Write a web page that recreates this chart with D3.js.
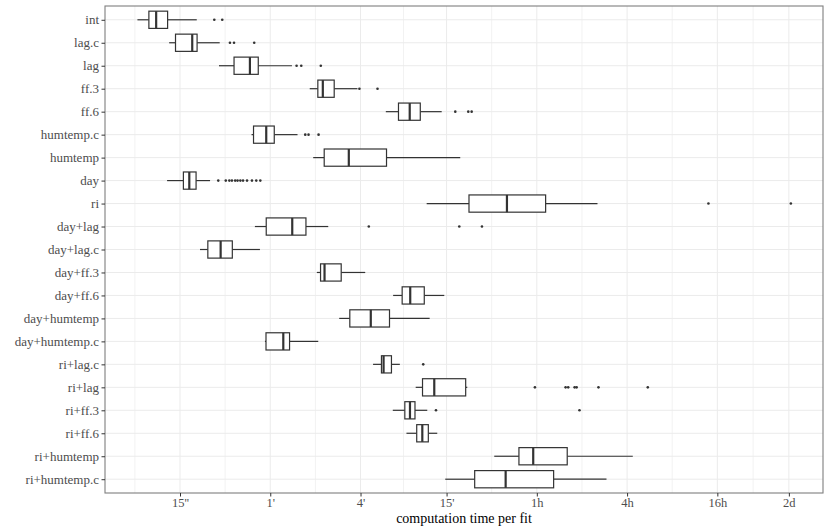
<!DOCTYPE html>
<meta charset="utf-8">
<style type="text/css">
body { margin: 0; background: #fff; }
svg text { font-family: "Palatino Linotype", "Book Antiqua", Palatino, "Liberation Serif", serif; }
.grid line { stroke: #ebebeb; }
.box rect { fill: #fff; stroke: #333; stroke-width: 1.2px; }
.box line { stroke: #333; stroke-width: 1.2px; }
.box .median { stroke-width: 2.2px; }
.outlier { fill: #333; }
</style>
<body>
<script src="https://cdn.jsdelivr.net/npm/d3@7"></script>
<script>

// categories, top to bottom
var models = ["int", "lag.c", "lag", "ff.3", "ff.6", "humtemp.c", "humtemp", "day", "ri",
  "day+lag", "day+lag.c", "day+ff.3", "day+ff.6", "day+humtemp", "day+humtemp.c",
  "ri+lag.c", "ri+lag", "ri+ff.3", "ri+ff.6", "ri+humtemp", "ri+humtemp.c"];

// box statistics, seconds per fit
var whiskerLow  = [7.8, 12.7, 27.3, 110, 354, 45.0, 116, 12.3, 663,
  47.4, 20.4, 122.7, 396, 173, 55.3, 291, 560, 394, 486, 1872, 882];
var q1          = [9.3, 14.0, 34.4, 124.6, 430, 46.4, 137.4, 15.8, 1270,
  56.4, 23.0, 129.9, 455, 203.6, 56.2, 331, 622, 474, 569, 2735, 1386];
var medians     = [10.4, 18.1, 43.9, 134.5, 511, 56.4, 200.5, 17.3, 2275,
  84.1, 28.0, 138.1, 515, 281, 73.3, 342, 745, 513, 620, 3406, 2230];
var q3          = [12.4, 19.5, 49.9, 160.2, 601, 63.8, 357.8, 19.2, 4121,
  103.8, 33.5, 178.4, 639, 374.6, 80.7, 386, 1207, 554, 680, 5742, 4660];
var whiskerHigh = [19.4, 27.6, 83.7, 229, 835, 91.2, 1110, 23.8, 9141,
  146.2, 51.2, 258, 869, 694, 125.4, 439, 1237, 669, 780, 15718, 10495];
var outliers = [
  [25.4, 28.7],
  [32.3, 34.4, 46.9],
  [89.9, 96.6, 130.4],
  [236, 311.6],
  [1029, 1256, 1323],
  [102.7, 108, 126],
  [],
  [27.0, 30.3, 32.0, 33.3, 35.0, 36.3, 37.9, 39.5, 42.0, 45.3, 48.4, 51.5],
  [50240, 178200],
  [272.6, 1094, 1550],
  [], [], [], [], [],
  [629],
  [3496, 5602, 5831, 6433, 6634, 9282, 19789],
  [765, 6932],
  [], [], []
];

var tickValues = [15, 60, 240, 900, 3600, 14400, 57600, 172800];
var tickLabels = ["15''", "1'", "4'", "15'", "1h", "4h", "16h", "2d"];

var width = 830, height = 529;
var panel = {left: 105, right: 823, top: 6, bottom: 493};

var svg = d3.select("body").append("svg")
    .attr("width", width)
    .attr("height", height);

var x = d3.scaleLog().domain([4.74, 291900]).range([panel.left, panel.right]);
var y = d3.scalePoint().domain(models).range([panel.top, panel.bottom]).padding(0.6);
var boxH = y.step() * 0.75;

// minor breaks halfway (in log space) between the major ones
var minorValues = [tickValues[0] / Math.sqrt(tickValues[1] / tickValues[0])];
for (var i = 1; i < tickValues.length; i++) {
  minorValues.push(Math.sqrt(tickValues[i - 1] * tickValues[i]));
}
minorValues = minorValues.filter(function(v) { return x(v) > panel.left && x(v) < panel.right; });

var grid = svg.append("g").attr("class", "grid");
grid.selectAll(".minor").data(minorValues).enter().append("line")
    .attr("x1", function(d) { return x(d); }).attr("x2", function(d) { return x(d); })
    .attr("y1", panel.top).attr("y2", panel.bottom)
    .style("stroke", "#f2f2f2").style("stroke-width", 1);
grid.selectAll(".majorx").data(tickValues).enter().append("line")
    .attr("x1", function(d) { return x(d); }).attr("x2", function(d) { return x(d); })
    .attr("y1", panel.top).attr("y2", panel.bottom)
    .style("stroke-width", 1);
grid.selectAll(".majory").data(models).enter().append("line")
    .attr("x1", panel.left).attr("x2", panel.right)
    .attr("y1", function(d) { return y(d); }).attr("y2", function(d) { return y(d); })
    .style("stroke-width", 1);

// boxplots
var boxes = svg.selectAll(".box").data(models).enter().append("g")
    .attr("class", "box")
    .attr("transform", function(d) { return "translate(0," + y(d) + ")"; });

boxes.append("line")
    .attr("x1", function(d, i) { return x(whiskerLow[i]); })
    .attr("x2", function(d, i) { return x(q1[i]); });
boxes.append("line")
    .attr("x1", function(d, i) { return x(q3[i]); })
    .attr("x2", function(d, i) { return x(whiskerHigh[i]); });
boxes.append("rect")
    .attr("x", function(d, i) { return x(q1[i]); })
    .attr("width", function(d, i) { return x(q3[i]) - x(q1[i]); })
    .attr("y", -boxH / 2)
    .attr("height", boxH);
boxes.append("line")
    .attr("class", "median")
    .attr("x1", function(d, i) { return x(medians[i]); })
    .attr("x2", function(d, i) { return x(medians[i]); })
    .attr("y1", -boxH / 2).attr("y2", boxH / 2);
boxes.each(function(d, i) {
  d3.select(this).selectAll("circle").data(outliers[i]).enter().append("circle")
      .attr("class", "outlier")
      .attr("cx", function(v) { return x(v); })
      .attr("cy", 0)
      .attr("r", 1.3);
});

// panel border
svg.append("rect")
    .attr("x", panel.left).attr("y", panel.top)
    .attr("width", panel.right - panel.left).attr("height", panel.bottom - panel.top)
    .style("fill", "none").style("stroke", "#7f7f7f").style("stroke-width", 1.1);

// axes
var xAxis = d3.axisBottom(x).tickValues(tickValues)
    .tickFormat(function(d, i) { return tickLabels[i]; })
    .tickSize(3.5).tickPadding(2);
var gx = svg.append("g")
    .attr("transform", "translate(0," + panel.bottom + ")")
    .call(xAxis);
gx.select(".domain").remove();

var yAxis = d3.axisLeft(y).tickSize(3.5).tickPadding(2.5);
var gy = svg.append("g")
    .attr("transform", "translate(" + panel.left + ",0)")
    .call(yAxis);
gy.select(".domain").remove();

[gx, gy].forEach(function(g) {
  g.selectAll(".tick line").style("stroke", "#333");
  g.selectAll(".tick text").style("fill", "#4d4d4d")
      .style("font-family", "\"Palatino Linotype\", \"Book Antiqua\", Palatino, \"Liberation Serif\", serif");
});
gy.selectAll(".tick text").style("font-size", "13px");
gx.selectAll(".tick text").style("font-size", "12.5px");

svg.append("text")
    .attr("x", (panel.left + panel.right) / 2)
    .attr("y", 523)
    .attr("text-anchor", "middle")
    .style("font-size", "14px")
    .style("fill", "#000")
    .text("computation time per fit");

</script>
</body>
